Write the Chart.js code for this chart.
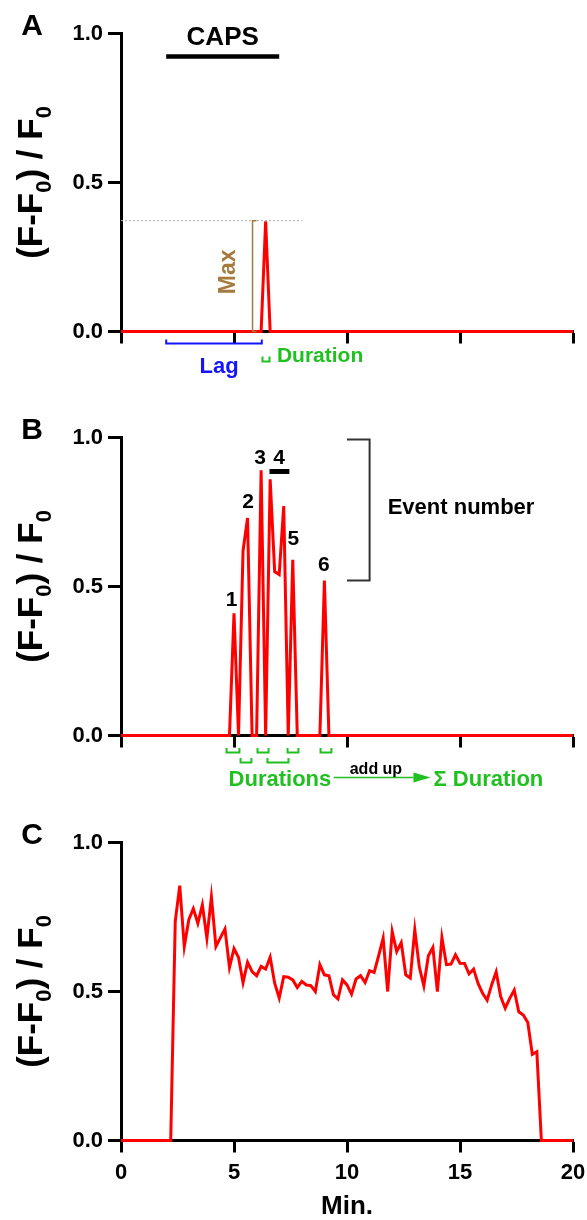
<!DOCTYPE html>
<html>
<head>
<meta charset="utf-8">
<script src="https://cdn.jsdelivr.net/npm/chart.js@4.4.0/dist/chart.umd.min.js"></script>
<style>
html, body { margin: 0; padding: 0; background: #fff; }
#wrap { position: relative; width: 587px; height: 1220px; overflow: hidden; }
canvas { position: absolute; left: 0; }
</style>
</head>
<body>
<div id="wrap">
  <canvas id="chartA" width="587" height="404" style="top:0px;width:587px;height:404px"></canvas>
  <canvas id="chartB" width="587" height="405" style="top:404px;width:587px;height:405px"></canvas>
  <canvas id="chartC" width="587" height="411" style="top:809px;width:587px;height:411px"></canvas>
</div>
<script>
// ticks
const xTicks = [0, 5, 10, 15, 20];
const yTicks = [0, 0.5, 1.0];

// A: single CAPS response
const aTime = [0, 6.2, 6.4, 6.6, 20];
const aRatio = [0, 0, 0.37, 0, 0];

// B: repeated events
const bTime = [0, 4.8, 5.0, 5.2, 5.4, 5.6, 5.8, 6.0, 6.2, 6.4, 6.6, 6.8, 7.0, 7.2, 7.4, 7.6, 7.8, 8.8, 9.0, 9.2, 20];
const bRatio = [0, 0, 0.41, 0, 0.62, 0.73, 0, 0, 0.89, 0, 0.86, 0.55, 0.54, 0.77, 0, 0.59, 0, 0, 0.52, 0, 0];
const eventLabels = ['1', '2', '3', '4', '5', '6'];
const eventLabelX = [4.89, 5.62, 6.15, 6.99, 7.63, 8.98];
const eventLabelY = [0.453, 0.782, 0.93, 0.93, 0.658, 0.57];
const durStart = [4.67, 5.29, 6.04, 6.48, 7.37, 8.83];
const durEnd = [5.24, 5.77, 6.53, 7.41, 7.85, 9.31];
const durRow = [0, 1, 0, 1, 0, 0];

// C: sustained response
const cTime = [0, 2.2, 2.4, 2.6, 2.8, 3.0, 3.2, 3.4, 3.6, 3.8, 4.0, 4.2, 4.4, 4.6, 4.8, 5.0,
  5.2, 5.4, 5.6, 5.8, 6.0, 6.2, 6.4, 6.6, 6.8, 7.0, 7.2, 7.4, 7.6, 7.8, 8.0,
  8.2, 8.4, 8.6, 8.8, 9.0, 9.2, 9.4, 9.6, 9.8, 10.0, 10.2, 10.4, 10.6, 10.8, 11.0,
  11.2, 11.4, 11.6, 11.8, 12.0, 12.2, 12.4, 12.6, 12.8, 13.0, 13.2, 13.4, 13.6, 13.8, 14.0,
  14.2, 14.4, 14.6, 14.8, 15.0, 15.2, 15.4, 15.6, 15.8, 16.0, 16.2, 16.4, 16.6, 16.8, 17.0,
  17.2, 17.4, 17.6, 17.8, 18.0, 18.2, 18.4, 18.6, 20];
const cRatio = [0, 0, 0.735, 0.855, 0.651, 0.741, 0.778, 0.729, 0.791, 0.679, 0.817, 0.651, 0.681, 0.710, 0.581, 0.644,
  0.614, 0.530, 0.598, 0.567, 0.553, 0.584, 0.575, 0.615, 0.528, 0.478, 0.550, 0.548, 0.539, 0.513, 0.534,
  0.522, 0.520, 0.500, 0.590, 0.556, 0.553, 0.489, 0.475, 0.539, 0.522, 0.491, 0.542, 0.553, 0.530, 0.570,
  0.564, 0.620, 0.679, 0.500, 0.701, 0.634, 0.664, 0.556, 0.545, 0.707, 0.582, 0.519, 0.620, 0.648, 0.500,
  0.681, 0.590, 0.592, 0.623, 0.595, 0.594, 0.559, 0.575, 0.527, 0.494, 0.471, 0.522, 0.566, 0.483, 0.444,
  0.477, 0.505, 0.432, 0.421, 0.396, 0.289, 0.298, 0, 0];

const FONT = "'Liberation Sans', Arial, Helvetica, sans-serif";
const GREEN = '#20c020';
const AREA_LEFT = 121;
const AREA_TOP = 33.5;
const AREA_BOTTOM = 331.5;

Chart.defaults.font.family = FONT;
Chart.defaults.font.weight = 'bold';
Chart.defaults.color = '#000';

function toPoints(xs, ys) {
    return xs.map((x, i) => ({ x: x, y: ys[i] }));
}

function buildOptions(canvasHeight, showX) {
    return {
        responsive: false,
        animation: false,
        layout: { padding: { top: AREA_TOP, right: 14, bottom: 0, left: 0 } },
        plugins: { legend: { display: false }, tooltip: { enabled: false } },
        scales: {
            x: {
                type: 'linear',
                min: 0,
                max: 20,
                afterBuildTicks: s => { s.ticks = xTicks.map(v => ({ value: v })); },
                afterFit: s => {
                    s.height = canvasHeight - AREA_BOTTOM;
                    s.paddingLeft = 0;
                    s.paddingRight = 0;
                },
                ticks: { display: showX, font: { size: 22, weight: 'bold' }, padding: 7, maxRotation: 0, color: '#000' },
                grid: { drawOnChartArea: false, drawTicks: true, tickLength: 12, tickWidth: 3, tickColor: '#000' },
                border: { display: true, color: '#000', width: 3 },
                title: { display: showX, text: 'Min.', font: { size: 26, weight: 'bold', lineHeight: 1 }, padding: 0, color: '#000' }
            },
            y: {
                min: 0,
                max: 1,
                afterBuildTicks: s => { s.ticks = yTicks.map(v => ({ value: v })); },
                afterFit: s => {
                    s.width = AREA_LEFT;
                    s.paddingTop = 0;
                    s.paddingBottom = 0;
                },
                ticks: { font: { size: 22, weight: 'bold' }, padding: 5, color: '#000', callback: v => v.toFixed(1) },
                grid: { drawOnChartArea: false, drawTicks: true, tickLength: 13, tickWidth: 3, tickColor: '#000' },
                border: { display: true, color: '#000', width: 3 }
            }
        }
    };
}

function redLine(xs, ys) {
    return {
        data: toPoints(xs, ys),
        borderColor: '#ff0000',
        borderWidth: 3,
        pointRadius: 0,
        tension: 0,
        fill: false,
        clip: false
    };
}

function drawYTitle(chart) {
    const ctx = chart.ctx;
    const cy = chart.scales.y.getPixelForValue(0.5);
    const parts = [['(F-F', 35, 0], ['0', 22, 9], [') / F', 35, 0], ['0', 22, 9]];
    ctx.save();
    ctx.translate(42, cy);
    ctx.rotate(-Math.PI / 2);
    ctx.fillStyle = '#000';
    ctx.textAlign = 'left';
    ctx.textBaseline = 'alphabetic';
    let total = 0;
    parts.forEach(p => {
        ctx.font = 'bold ' + p[1] + 'px ' + FONT;
        total += ctx.measureText(p[0]).width;
    });
    let x = -total / 2;
    parts.forEach(p => {
        ctx.font = 'bold ' + p[1] + 'px ' + FONT;
        ctx.fillText(p[0], x, p[2]);
        x += ctx.measureText(p[0]).width;
    });
    ctx.restore();
}

function text(ctx, str, x, y, size, color, align) {
    ctx.font = 'bold ' + size + 'px ' + FONT;
    ctx.fillStyle = color;
    ctx.textAlign = align || 'center';
    ctx.textBaseline = 'middle';
    ctx.fillText(str, x, y);
}

function path(ctx, pts, color, width) {
    ctx.beginPath();
    ctx.moveTo(pts[0][0], pts[0][1]);
    for (let i = 1; i < pts.length; i++) ctx.lineTo(pts[i][0], pts[i][1]);
    ctx.strokeStyle = color;
    ctx.lineWidth = width;
    ctx.stroke();
}

function panelLetter(letter) {
    return {
        id: 'letter' + letter,
        afterDraw(chart) {
            const ctx = chart.ctx;
            ctx.save();
            ctx.font = 'bold 30px ' + FONT;
            ctx.fillStyle = '#000';
            ctx.textAlign = 'center';
            ctx.textBaseline = 'alphabetic';
            ctx.fillText(letter, 32, 35);
            drawYTitle(chart);
            ctx.restore();
        }
    };
}

const annotA = {
    id: 'annotA',
    afterDraw(chart) {
        const ctx = chart.ctx;
        const X = v => chart.scales.x.getPixelForValue(v);
        const Y = v => chart.scales.y.getPixelForValue(v);
        const base = Y(0);
        ctx.save();
        // CAPS application
        path(ctx, [[X(2), Y(0.923)], [X(7), Y(0.923)]], '#000', 4.5);
        text(ctx, 'CAPS', X(4.5), Y(0.985), 26, '#000');
        // max level
        ctx.setLineDash([2, 2]);
        path(ctx, [[X(0), Y(0.372)], [X(8), Y(0.372)]], '#aaaaaa', 1);
        ctx.setLineDash([]);
        const brown = '#a47b3d';
        const mx = X(5.82);
        path(ctx, [[mx + 4, Y(0.372)], [mx, Y(0.372)], [mx, base], [mx + 4, base]], brown, 1.5);
        ctx.save();
        ctx.translate(X(4.76), Y(0.2));
        ctx.rotate(-Math.PI / 2);
        text(ctx, 'Max', 0, 0, 23, brown);
        ctx.restore();
        // lag
        const blue = '#1414ff';
        path(ctx, [[X(2), base + 8], [X(2), base + 12], [X(6.23), base + 12], [X(6.23), base + 8]], blue, 2);
        text(ctx, 'Lag', X(4.34), base + 35, 22, blue);
        // duration
        path(ctx, [[X(6.26), base + 25], [X(6.26), base + 30], [X(6.57), base + 30], [X(6.57), base + 25]], GREEN, 2);
        text(ctx, 'Duration', X(6.9), base + 25, 21, GREEN, 'left');
        ctx.restore();
    }
};

const annotB = {
    id: 'annotB',
    afterDraw(chart) {
        const ctx = chart.ctx;
        const X = v => chart.scales.x.getPixelForValue(v);
        const Y = v => chart.scales.y.getPixelForValue(v);
        const base = Y(0);
        ctx.save();
        eventLabels.forEach((l, i) => text(ctx, l, X(eventLabelX[i]), Y(eventLabelY[i]), 21, '#000'));
        path(ctx, [[X(6.57), Y(0.886)], [X(7.45), Y(0.886)]], '#000', 5);
        // event bracket
        path(ctx, [[X(10), Y(0.993)], [X(11), Y(0.993)], [X(11), Y(0.52)], [X(10), Y(0.52)]], '#333', 2);
        text(ctx, 'Event number', X(11.8), Y(0.762), 22, '#000', 'left');
        // duration brackets
        durStart.forEach((s, i) => {
            const top = base + 12.5 + durRow[i] * 10;
            path(ctx, [[X(s), top], [X(s), top + 4.5], [X(durEnd[i]), top + 4.5], [X(durEnd[i]), top]], GREEN, 2);
        });
        text(ctx, 'Durations', X(4.76), base + 44, 22, GREEN, 'left');
        const ay = base + 42;
        path(ctx, [[X(9.41), ay], [X(12.94), ay]], GREEN, 1.5);
        ctx.beginPath();
        ctx.moveTo(X(12.94), ay - 5);
        ctx.lineTo(X(13.7), ay);
        ctx.lineTo(X(12.94), ay + 5);
        ctx.closePath();
        ctx.fillStyle = GREEN;
        ctx.fill();
        text(ctx, 'add up', X(11.28), base + 34, 16, '#000');
        text(ctx, '\u03A3 Duration', X(13.83), base + 44, 22, GREEN, 'left');
        ctx.restore();
    }
};

new Chart(document.getElementById('chartA'), {
    type: 'line',
    data: { datasets: [redLine(aTime, aRatio)] },
    options: buildOptions(404, false),
    plugins: [panelLetter('A'), annotA]
});

new Chart(document.getElementById('chartB'), {
    type: 'line',
    data: { datasets: [redLine(bTime, bRatio)] },
    options: buildOptions(405, false),
    plugins: [panelLetter('B'), annotB]
});

new Chart(document.getElementById('chartC'), {
    type: 'line',
    data: { datasets: [redLine(cTime, cRatio)] },
    options: buildOptions(411, true),
    plugins: [panelLetter('C')]
});
</script>
</body>
</html>
